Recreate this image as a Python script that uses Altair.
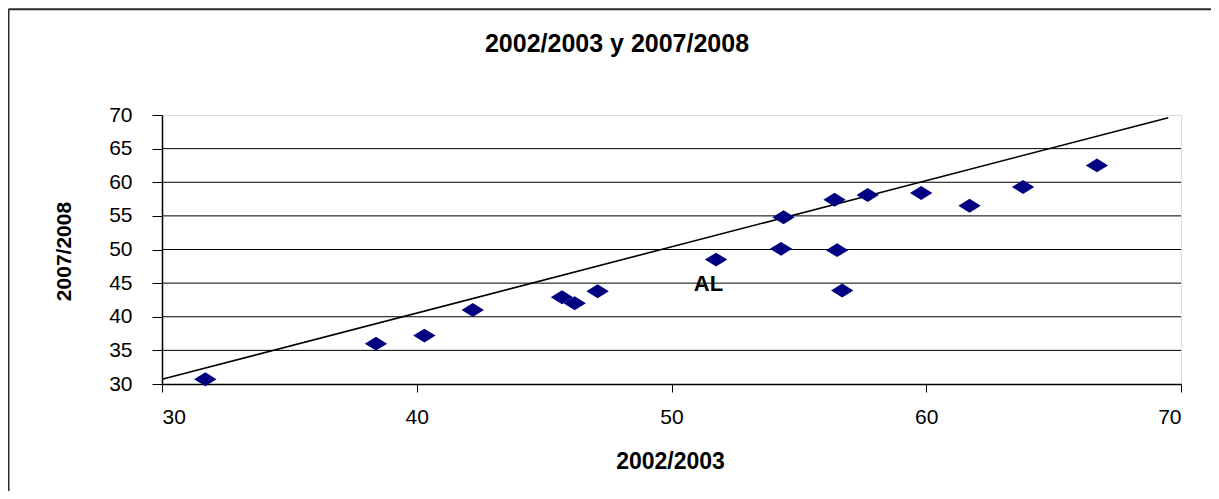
import altair as alt
import pandas as pd

# Data
x_2002 = [31.7, 38.4, 40.3, 42.2, 45.7, 46.2, 47.1, 51.75, 54.4, 54.3,
          56.4, 56.5, 56.7, 57.7, 59.8, 61.7, 63.8, 66.7]
y_2007 = [30.7, 36.0, 37.2, 41.0, 42.9, 42.0, 43.8, 48.5, 54.8, 50.1,
          57.4, 49.9, 43.9, 58.1, 58.4, 56.5, 59.3, 62.5]
line_x = [30, 69.5]
line_y = [30.7, 69.6]
x_ticks = [30, 40, 50, 60, 70]
y_ticks = [30, 35, 40, 45, 50, 55, 60, 65, 70]
grid_vals = [35, 40, 45, 50, 55, 60, 65]
label_text = ["AL"]
label_x = [51.45]
label_y = [44.8]
chart_title = ["2002/2003 y 2007/2008"]

FONT = "Liberation Sans"
xs = alt.Scale(domain=[30, 70], nice=False, zero=False)
ys = alt.Scale(domain=[30, 70], nice=False, zero=False)

x_axis = alt.Axis(
    title="2002/2003", values=x_ticks, grid=False, format="d",
    labelFont=FONT, labelFontSize=21, labelColor="black", labelPadding=14,
    tickSize=8, tickColor="black", domainColor="black", domainWidth=1.5,
    titleFont=FONT, titleFontSize=23, titleFontWeight="bold", titleColor="black",
    titleX=508, titleY=84, titleBaseline="alphabetic", titleAlign="center")
y_axis = alt.Axis(
    title="2007/2008", values=y_ticks, grid=False, format="d",
    labelFont=FONT, labelFontSize=21, labelColor="black", labelPadding=20,
    tickSize=10, tickColor="black", domainColor="black", domainWidth=1.5,
    titleFont=FONT, titleFontSize=21, titleFontWeight="bold", titleColor="black",
    titleX=-92, titleY=136, titleAngle=-90, titleBaseline="alphabetic",
    titleAlign="center")

pts = pd.DataFrame({"x": x_2002, "y": y_2007})
grid_df = pd.DataFrame({"g": grid_vals})
line_df = pd.DataFrame({"x": line_x, "y": line_y})
lab_df = pd.DataFrame({"x": label_x, "y": label_y, "t": label_text})
title_df = pd.DataFrame({"t": chart_title})

grid = alt.Chart(grid_df).mark_rule(color="#000000", strokeWidth=1).encode(
    y=alt.Y("g:Q", scale=ys, axis=y_axis)
)

diamond = "M-1,0L0,-0.62L1,0L0,0.62Z"
points = alt.Chart(pts).mark_point(
    shape=diamond, filled=True, color="#000080", opacity=1, size=500
).encode(
    x=alt.X("x:Q", scale=xs, axis=x_axis),
    y=alt.Y("y:Q", scale=ys, axis=y_axis),
)

line = alt.Chart(line_df).mark_line(color="black", strokeWidth=1.6).encode(
    x=alt.X("x:Q", scale=xs, axis=x_axis), y=alt.Y("y:Q", scale=ys, axis=y_axis)
)

label = alt.Chart(lab_df).mark_text(
    font=FONT, fontSize=22, fontWeight="bold", color="black",
    align="center", baseline="middle"
).encode(x=alt.X("x:Q", scale=xs, axis=x_axis), y=alt.Y("y:Q", scale=ys, axis=y_axis), text="t:N")

title = alt.Chart(title_df).mark_text(
    font=FONT, fontSize=25, fontWeight="bold", color="black",
    align="center", baseline="alphabetic"
).encode(x=alt.value(455), y=alt.value(-63), text="t:N")

# outer frame of the chart
frame_df = pd.DataFrame({"a": [0]})
frame_left = alt.Chart(frame_df).mark_rule(color="#2b2b2b", strokeWidth=2).encode(
    x=alt.value(-153.5), y=alt.value(-105.7), y2=alt.value(380)
)
frame_top = alt.Chart(frame_df).mark_rule(color="#2b2b2b", strokeWidth=2).encode(
    x=alt.value(-153.5), x2=alt.value(1100), y=alt.value(-105.7)
)

chart = alt.layer(grid, line, points, label, title, frame_left, frame_top).properties(
    width=1019, height=269,
    padding={"left": 154, "top": 107, "right": 30, "bottom": 107},
    autosize=alt.AutoSizeParams(type="none"),
).configure_view(stroke="#888888", strokeWidth=1.5).configure(background="white")

chart.save("out.html", embed_options={"renderer": "svg", "actions": False})
